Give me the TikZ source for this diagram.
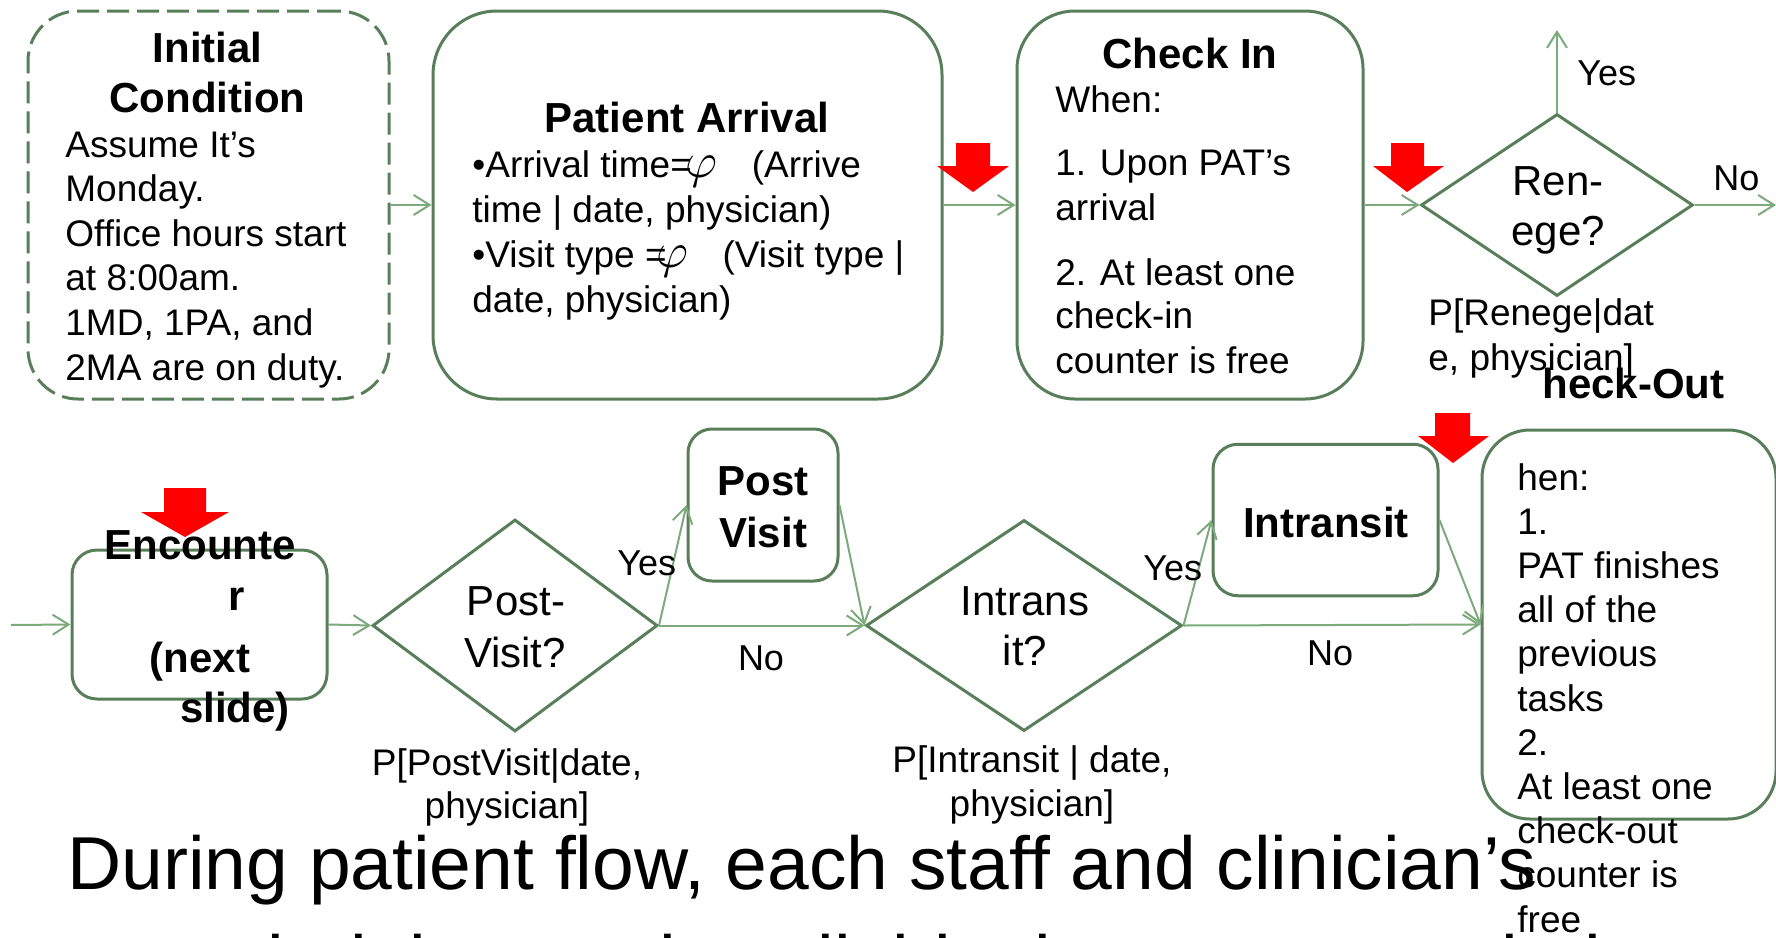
\documentclass[tikz,border=0pt]{standalone}
\usepackage{fontspec}
\setmainfont{Liberation Sans}
\usetikzlibrary{shapes.geometric,arrows.meta}

\definecolor{boxgreen}{RGB}{88,126,90}
\definecolor{flowgreen}{RGB}{124,170,124}
\definecolor{alertred}{RGB}{255,0,0}

\newcommand{\distphi}{{\fontsize{25pt}{25pt}\selectfont$\varphi$}}

\begin{document}
\begin{tikzpicture}[x=0.5pt,y=-0.5pt,
  frame/.style={draw=boxgreen, line width=1.5pt, rectangle, inner sep=0pt},
  decision/.style={draw=boxgreen, line width=1.5pt, diamond, inner sep=0pt},
  flow/.style={draw=flowgreen, line width=1pt, -{Straight Barb[length=8pt,width=10pt]}},
  txt/.style={inner sep=0pt, font=\fontsize{18.5pt}{22.3pt}\selectfont},
  ttl/.style={inner sep=0pt, font=\fontsize{21pt}{25pt}\selectfont\bfseries},
  qtxt/.style={inner sep=0pt, font=\fontsize{21pt}{25pt}\selectfont},
  lbl/.style={inner sep=0pt, font=\fontsize{18pt}{22pt}\selectfont},
  bigtxt/.style={inner sep=0pt, font=\fontsize{37.5pt}{44pt}\selectfont},
  dropmark/.style={fill=alertred}
]
\useasboundingbox (0,0) rectangle (1776,937);
\fill[white] (0,0) rectangle (1776,937);
\clip (0,0) rectangle (1776,937);

% ---- process boxes and decisions ----
\node[frame, dash pattern=on 11pt off 4pt, rounded corners=25pt,
      minimum width=180.5pt, minimum height=194pt] (init) at (208.5,205) {};
\node[frame, rounded corners=32pt, minimum width=254.5pt, minimum height=194pt] (arrival) at (687.5,205) {};
\node[frame, rounded corners=29pt, minimum width=173pt, minimum height=194pt] (checkin) at (1190,205) {};
\node[decision, minimum width=136pt, minimum height=91pt] (renege) at (1557,205) {};

\node[frame, rounded corners=12.5pt, minimum width=127.5pt, minimum height=74.5pt] (encounter) at (199.5,624.5) {};
\node[decision, minimum width=142.5pt, minimum height=106pt] (pvq) at (515,625.5) {};
\node[frame, rounded corners=12pt, minimum width=75pt, minimum height=76pt] (postvisit) at (763,505) {};
\node[decision, minimum width=158pt, minimum height=105.5pt] (itq) at (1024,625.5) {};
\node[frame, rounded corners=12.5pt, minimum width=112.5pt, minimum height=75.75pt] (intransit) at (1325.5,520) {};
\node[frame, rounded corners=24pt, minimum width=147pt, minimum height=194.5pt] (checkout) at (1629,624.5) {};

% ---- free connector ends ----
\coordinate (renegeyes) at (1557,30);
\coordinate (renegeno) at (1776,205);
\coordinate (encin) at (11,625);

% ---- connectors ----
\draw[flow] (init.east) -- (arrival.west);
\draw[flow] (arrival.east) -- (checkin.west);
\draw[flow] (checkin.east) -- (renege.west);
\draw[flow] (renege.north) -- (renegeyes);
\draw[flow] (renege.east) -- (renegeno);
\draw[flow] (encin) -- (encounter.west);
\draw[flow] (encounter.east) -- (pvq.west);
\draw[flow] (pvq.east) -- (postvisit.west);
\draw[flow] (postvisit.east) -- (itq.west);
\draw[flow] (pvq.east) -- (itq.west);
\draw[flow] (itq.east) -- (intransit.west);
\draw[flow] (intransit.east) -- (checkout.west);
\draw[flow] (itq.east) -- (checkout.west);

% ---- red position markers ----
\fill[dropmark] (956,143) -- (990,143) -- (990,166) -- (1009,166) -- (973,192) -- (937,166) -- (956,166) -- cycle;
\fill[dropmark] (1391,143) -- (1424,143) -- (1424,166) -- (1444,166) -- (1407,192) -- (1373,166) -- (1391,166) -- cycle;
\fill[dropmark] (164,488) -- (206,488) -- (206,512) -- (229,512) -- (185,537) -- (141,512) -- (164,512) -- cycle;
\fill[dropmark] (1435,413) -- (1470,413) -- (1470,436) -- (1489,436) -- (1453,463) -- (1418,436) -- (1435,436) -- cycle;

% ---- Initial Condition ----
\node[ttl, anchor=base] (icT1) at (207.5,62) {Initial};
\node[ttl, anchor=base] (icT2) at (207.5,112) {Condition};
\foreach \t [count=\i from 0] in {Assume It’s, Monday., Office hours start, at 8:00am., {1MD, 1PA, and}, 2MA are on duty.}
  \node[txt, anchor=base west] (ic\i) at (65,{157+44.6*\i}) {\t};

% ---- Patient Arrival ----
\node[ttl, anchor=base] (paT) at (687,132) {Patient Arrival};
\node[txt, anchor=base west] (pa0) at (472,177) {•Arrival time=\kern-3pt\distphi\hspace{17pt}(Arrive};
\node[txt, anchor=base west] (pa1) at (472,222) {time | date, physician)};
\node[txt, anchor=base west] (pa2) at (472,267) {•Visit type =\kern-5pt\distphi\hspace{17pt}(Visit type |};
\node[txt, anchor=base west] (pa3) at (472,312) {date, physician)};

% ---- Check In ----
\node[ttl, anchor=base] (ciT) at (1190,68) {Check In};
\node[txt, anchor=base west] (ci0) at (1055,112) {When:};
\node[txt, anchor=base west] (ci1) at (1055,175) {1. Upon PAT’s};
\node[txt, anchor=base west] (ci2) at (1055,220) {arrival};
\node[txt, anchor=base west] (ci3) at (1055,285) {2. At least one};
\node[txt, anchor=base west] (ci4) at (1055,328) {check-in};
\node[txt, anchor=base west] (ci5) at (1055,373) {counter is free};

% ---- Renege decision ----
\node[qtxt, anchor=base] (rq0) at (1558,195) {Ren-};
\node[qtxt, anchor=base] (rq1) at (1558,245) {ege?};
\node[lbl, anchor=base west] (ryes) at (1577,85) {Yes};
\node[lbl, anchor=base west] (rno) at (1713,190) {No};
\node[txt, anchor=base west] (rp0) at (1428,325) {P[Renege|dat};
\node[txt, anchor=base west] (rp1) at (1428,370) {e, physician]};
\node[ttl, anchor=base west] (coT) at (1542,398) {heck-Out};

% ---- Encounter ----
\node[ttl, anchor=base] (en0) at (200,559) {Encounte};
\node[ttl, anchor=base] (en1) at (237,610) {r};
\node[ttl, anchor=base] (en2) at (200,672) {(next};
\node[ttl, anchor=base] (en3) at (235,722) {slide)};

% ---- Post-Visit decision ----
\node[qtxt, anchor=base] (pq0) at (516,615) {Post-};
\node[qtxt, anchor=base] (pq1) at (515,667) {Visit?};
\node[txt, anchor=base] (pp0) at (507,775) {P[PostVisit|date,};
\node[txt, anchor=base] (pp1) at (507,818) {physician]};
\node[lbl, anchor=base west] (pyes) at (617,575) {Yes};
\node[lbl, anchor=base] (pno) at (761,670) {No};
\node[ttl, anchor=base] (pv0) at (763,495) {Post};
\node[ttl, anchor=base] (pv1) at (763,547) {Visit};

% ---- Intransit decision ----
\node[qtxt, anchor=base] (iq0) at (1025,615) {Intrans};
\node[qtxt, anchor=base] (iq1) at (1025,665) {it?};
\node[txt, anchor=base] (ip0) at (1032,772) {P[Intransit | date,};
\node[txt, anchor=base] (ip1) at (1032,816) {physician]};
\node[lbl, anchor=base west] (iyes) at (1143,580) {Yes};
\node[lbl, anchor=base] (ino) at (1330,665) {No};
\node[ttl, anchor=base] (itT) at (1326,537) {Intransit};

% ---- Check-Out ----
\foreach \t [count=\i from 0] in {hen:, 1., PAT finishes, all of the, previous, tasks, 2., At least one, check-out, counter is, free}
  \node[txt, anchor=base west] (co\i) at (1517,{490+44.2*\i}) {\t};

% ---- note ----
\node[bigtxt, anchor=base west] (note0) at (67,889) {During patient flow, each staff and clinician’s};
\node[bigtxt, anchor=base west] (note1) at (67,988) {occupied time and available time are recorded.};
\end{tikzpicture}
\end{document}
